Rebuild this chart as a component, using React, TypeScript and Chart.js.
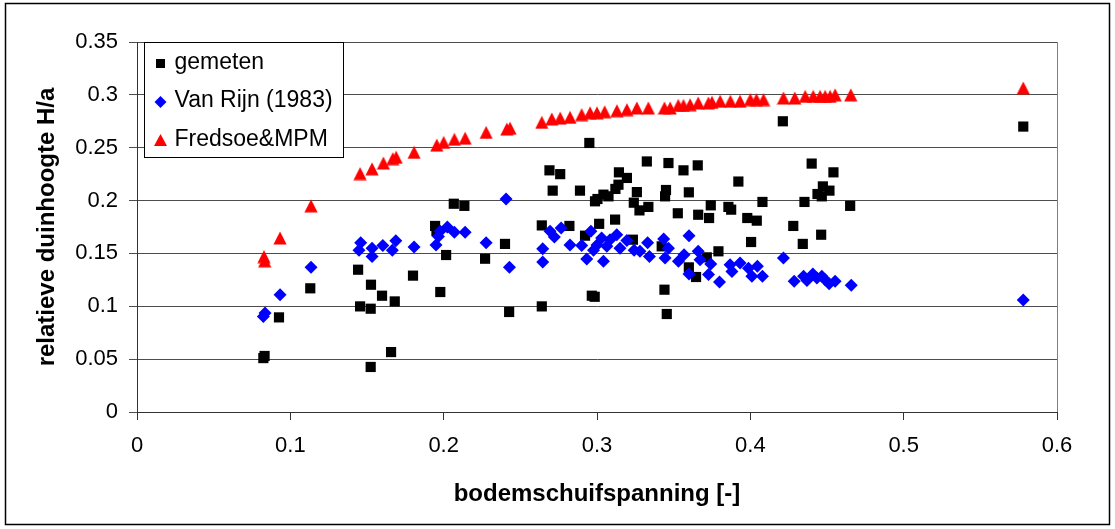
import React, { useEffect, useRef } from "react";
import { Chart, registerables } from "chart.js";

Chart.register(...registerables);

// ---- data ----
const xTicks = [0, 0.1, 0.2, 0.3, 0.4, 0.5, 0.6];
const yTicks = [0, 0.05, 0.1, 0.15, 0.2, 0.25, 0.3, 0.35];
const xTitle = "bodemschuifspanning [-]";
const yTitle = "relatieve duinhoogte H/a";
const seriesLabels = ["gemeten", "Van Rijn (1983)", "Fredsoe&MPM"];

const gemeten: [number, number][] = [
  [0.0824, 0.051], [0.0832, 0.053], [0.0926, 0.0895], [0.113, 0.117],
  [0.1442, 0.1346], [0.1455, 0.0999], [0.1524, 0.0977], [0.1526, 0.1204],
  [0.1524, 0.0426], [0.1598, 0.11], [0.1657, 0.0567], [0.1681, 0.1046],
  [0.18, 0.129], [0.1944, 0.176], [0.1953, 0.171], [0.1978, 0.1135],
  [0.2016, 0.1485], [0.2066, 0.197], [0.2135, 0.195], [0.227, 0.145],
  [0.24, 0.159], [0.2427, 0.0946], [0.264, 0.1765], [0.264, 0.0999],
  [0.269, 0.2286], [0.2711, 0.2094], [0.276, 0.225], [0.282, 0.176],
  [0.2889, 0.2094], [0.2922, 0.1668], [0.295, 0.2545], [0.2966, 0.11],
  [0.2985, 0.109], [0.2987, 0.1993], [0.3003, 0.2015], [0.3014, 0.178],
  [0.3042, 0.2056], [0.3075, 0.204], [0.3118, 0.182], [0.312, 0.211],
  [0.314, 0.215], [0.3143, 0.2267], [0.3195, 0.2214], [0.3234, 0.163],
  [0.324, 0.198], [0.326, 0.208], [0.3277, 0.1907], [0.3325, 0.237],
  [0.3335, 0.194], [0.3422, 0.1567], [0.344, 0.1157], [0.3444, 0.204],
  [0.345, 0.21], [0.3455, 0.0927], [0.3466, 0.2355], [0.3527, 0.188],
  [0.3564, 0.2286], [0.3599, 0.2078], [0.3599, 0.1368], [0.3646, 0.1277],
  [0.3657, 0.2333], [0.366, 0.1866], [0.3716, 0.1463], [0.3731, 0.1835],
  [0.3742, 0.1955], [0.3792, 0.152], [0.3857, 0.194], [0.3875, 0.1914],
  [0.3922, 0.218], [0.398, 0.1835], [0.4005, 0.1608], [0.4042, 0.181],
  [0.4079, 0.1987], [0.4212, 0.275], [0.428, 0.176], [0.4342, 0.159],
  [0.4353, 0.1987], [0.44, 0.235], [0.4438, 0.2062], [0.4462, 0.1677],
  [0.4466, 0.204], [0.4473, 0.2134], [0.4516, 0.2094], [0.4542, 0.2267],
  [0.4651, 0.195], [0.578, 0.27],
];

const vanRijn: [number, number][] = [
  [0.0824, 0.0904], [0.0835, 0.0937], [0.0933, 0.111], [0.1135, 0.137],
  [0.1459, 0.16], [0.1448, 0.153], [0.1533, 0.155], [0.1533, 0.147],
  [0.1603, 0.1576], [0.1688, 0.162], [0.1665, 0.153], [0.1807, 0.156],
  [0.195, 0.158], [0.1966, 0.166], [0.1977, 0.171], [0.2024, 0.175],
  [0.207, 0.17], [0.214, 0.17], [0.2277, 0.16], [0.2407, 0.2015],
  [0.2429, 0.137], [0.2646, 0.1545], [0.2646, 0.142], [0.2694, 0.171],
  [0.2722, 0.1656], [0.2766, 0.174], [0.2824, 0.158], [0.29, 0.1576],
  [0.296, 0.171], [0.2933, 0.1447], [0.3042, 0.1425], [0.2977, 0.153],
  [0.3, 0.158], [0.303, 0.1646], [0.3064, 0.1567], [0.3085, 0.163],
  [0.3129, 0.1677], [0.315, 0.155], [0.3195, 0.1623], [0.3242, 0.153],
  [0.328, 0.152], [0.333, 0.16], [0.3342, 0.147], [0.3435, 0.1637],
  [0.3466, 0.155], [0.3444, 0.1457], [0.36, 0.1668], [0.3568, 0.1488],
  [0.3531, 0.1425], [0.366, 0.152], [0.3672, 0.144], [0.36, 0.1306],
  [0.3742, 0.14], [0.3727, 0.13], [0.3799, 0.123], [0.3868, 0.1394],
  [0.3933, 0.141], [0.388, 0.133], [0.3988, 0.136], [0.401, 0.1283],
  [0.4046, 0.1378], [0.4079, 0.1283], [0.4216, 0.1457], [0.4286, 0.1236],
  [0.4347, 0.1283], [0.4369, 0.1245], [0.4408, 0.1306], [0.4434, 0.1268],
  [0.4466, 0.1283], [0.4488, 0.1252], [0.4514, 0.1214], [0.4553, 0.1236],
  [0.4658, 0.1198], [0.578, 0.106],
];

const fredsoe: [number, number][] = [
  [0.0828, 0.147], [0.0833, 0.143], [0.0933, 0.1646], [0.1135, 0.195],
  [0.1455, 0.2255], [0.1533, 0.23], [0.1607, 0.2355], [0.1668, 0.2396],
  [0.169, 0.241], [0.1807, 0.2456], [0.1955, 0.2525], [0.2, 0.255],
  [0.207, 0.258], [0.214, 0.259], [0.2277, 0.2645], [0.2412, 0.2677],
  [0.2433, 0.2685], [0.264, 0.274], [0.2705, 0.2772], [0.276, 0.278],
  [0.2824, 0.2787], [0.29, 0.2813], [0.2955, 0.283], [0.3, 0.283],
  [0.305, 0.284], [0.313, 0.285], [0.3195, 0.286], [0.326, 0.2876],
  [0.3335, 0.2876], [0.344, 0.2876], [0.3477, 0.2876], [0.353, 0.29],
  [0.3564, 0.29], [0.3607, 0.2907], [0.366, 0.2923], [0.3727, 0.2923],
  [0.375, 0.293], [0.3803, 0.294], [0.387, 0.294], [0.3933, 0.294],
  [0.4, 0.2955], [0.404, 0.2955], [0.4086, 0.2955], [0.4216, 0.297],
  [0.429, 0.297], [0.4358, 0.2986], [0.441, 0.2986], [0.4455, 0.2986],
  [0.4488, 0.2986], [0.452, 0.2986], [0.4553, 0.3], [0.4655, 0.3],
  [0.578, 0.3065],
];

const colors = ["#000000", "#0000FF", "#FF0000"];
const FONT = '"Liberation Sans", Arial, sans-serif';

const toPts = (arr: [number, number][]) => arr.map(([x, y]) => ({ x, y }));

// triangle marker centred on its bounding box (like Excel)
function makeTriangle(color: string): HTMLCanvasElement {
  const c = document.createElement("canvas");
  c.width = 14;
  c.height = 14;
  const g = c.getContext("2d")!;
  g.fillStyle = color;
  g.beginPath();
  g.moveTo(7, 0.5);
  g.lineTo(13.6, 13.5);
  g.lineTo(0.4, 13.5);
  g.closePath();
  g.fill();
  return c;
}

const framePlugin = {
  id: "frame",
  beforeDraw(chart: any) {
    const ctx = chart.ctx;
    const a = chart.chartArea;
    ctx.save();
    ctx.fillStyle = "#ffffff";
    ctx.fillRect(0, 0, chart.width, chart.height);
    ctx.strokeStyle = "#000000";
    ctx.lineWidth = 1.5;
    ctx.strokeRect(5.5, 3.5, 1104, 521);
    ctx.strokeStyle = "#808080";
    ctx.lineWidth = 1;
    ctx.strokeRect(
      Math.round(a.left) + 0.5,
      Math.round(a.top) + 0.5,
      Math.round(a.right - a.left),
      Math.round(a.bottom - a.top)
    );
    ctx.restore();
  },
  afterDraw(chart: any) {
    const ctx = chart.ctx;
    const a = chart.chartArea;
    const bx = Math.round(a.left) + 7.5;
    const by = Math.round(a.top) + 0.5;
    ctx.save();
    ctx.fillStyle = "#ffffff";
    ctx.fillRect(bx, by, 199, 115);
    ctx.strokeStyle = "#000000";
    ctx.lineWidth = 1;
    ctx.strokeRect(bx, by, 199, 115);
    const mx = bx + 16;
    const baselines = [by + 26, by + 64.5, by + 103.5];
    ctx.font = `23px ${FONT}`;
    ctx.textBaseline = "alphabetic";
    ctx.textAlign = "left";
    seriesLabels.forEach((lab, i) => {
      const cy = baselines[i] - 5;
      ctx.fillStyle = colors[i];
      ctx.beginPath();
      if (i === 0) {
        ctx.rect(mx - 4.5, cy - 4.5, 9, 9);
      } else if (i === 1) {
        ctx.moveTo(mx, cy - 6);
        ctx.lineTo(mx + 6, cy);
        ctx.lineTo(mx, cy + 6);
        ctx.lineTo(mx - 6, cy);
        ctx.closePath();
      } else {
        ctx.moveTo(mx, cy - 7);
        ctx.lineTo(mx + 6.5, cy + 5);
        ctx.lineTo(mx - 6.5, cy + 5);
        ctx.closePath();
      }
      ctx.fill();
      ctx.fillStyle = "#000000";
      ctx.fillText(lab, bx + 30, baselines[i]);
    });
    ctx.restore();
  },
};

export default function App() {
  const ref = useRef<HTMLCanvasElement | null>(null);

  useEffect(() => {
    if (!ref.current) return;
    const tri = makeTriangle(colors[2]);
    const chart = new Chart(ref.current, {
      type: "scatter",
      data: {
        datasets: [
          {
            label: seriesLabels[0],
            data: toPts(gemeten),
            pointStyle: "rect",
            pointRadius: 7.2,
            backgroundColor: colors[0],
            borderColor: colors[0],
            borderWidth: 0,
            order: 3,
          },
          {
            label: seriesLabels[1],
            data: toPts(vanRijn),
            pointStyle: "rectRot",
            pointRadius: 6.5,
            backgroundColor: colors[1],
            borderColor: colors[1],
            borderWidth: 0,
            order: 2,
          },
          {
            label: seriesLabels[2],
            data: toPts(fredsoe),
            pointStyle: tri,
            pointRadius: 7,
            backgroundColor: colors[2],
            borderColor: colors[2],
            borderWidth: 0,
            order: 1,
          },
        ],
      },
      options: {
        responsive: false,
        animation: false,
        devicePixelRatio: 1,
        layout: { padding: { left: 0, top: 42, right: 58, bottom: 0 } },
        plugins: {
          legend: { display: false },
          tooltip: { enabled: false },
        },
        scales: {
          x: {
            type: "linear",
            min: 0,
            max: 0.6,
            afterBuildTicks: (s: any) => {
              s.ticks = xTicks.map((v) => ({ value: v }));
            },
            afterFit: (s: any) => {
              s.height = 117;
            },
            ticks: {
              color: "#000000",
              font: { family: FONT, size: 22 },
              padding: 13,
              maxRotation: 0,
              autoSkip: false,
              callback: (v: any) => String(+Number(v).toFixed(2)),
            },
            grid: {
              display: true,
              drawOnChartArea: false,
              drawTicks: true,
              tickLength: 8,
              color: "#333333",
            },
            border: { display: true, color: "#333333", width: 1 },
            title: {
              display: true,
              text: xTitle,
              color: "#000000",
              font: { family: FONT, size: 24, weight: "bold" },
              padding: { top: 0, bottom: 20 },
            },
          },
          y: {
            type: "linear",
            min: 0,
            max: 0.35,
            afterBuildTicks: (s: any) => {
              s.ticks = yTicks.map((v) => ({ value: v }));
            },
            afterFit: (s: any) => {
              s.width = 137;
            },
            ticks: {
              color: "#000000",
              font: { family: FONT, size: 22 },
              padding: 11,
              autoSkip: false,
              callback: (v: any) => String(+Number(v).toFixed(2)),
            },
            grid: {
              display: true,
              drawTicks: true,
              tickLength: 8,
              color: "#4d4d4d",
            },
            border: { display: true, color: "#333333", width: 1 },
            title: {
              display: true,
              text: yTitle,
              color: "#000000",
              font: { family: FONT, size: 24, weight: "bold" },
              padding: { top: 33, bottom: 0 },
            },
          },
        },
      },
      plugins: [framePlugin],
    });
    return () => chart.destroy();
  }, []);

  return (
    <div style={{ position: "absolute", left: 0, top: 0, width: 1115, height: 529 }}>
      <canvas ref={ref} width={1115} height={529} style={{ display: "block" }} />
    </div>
  );
}
